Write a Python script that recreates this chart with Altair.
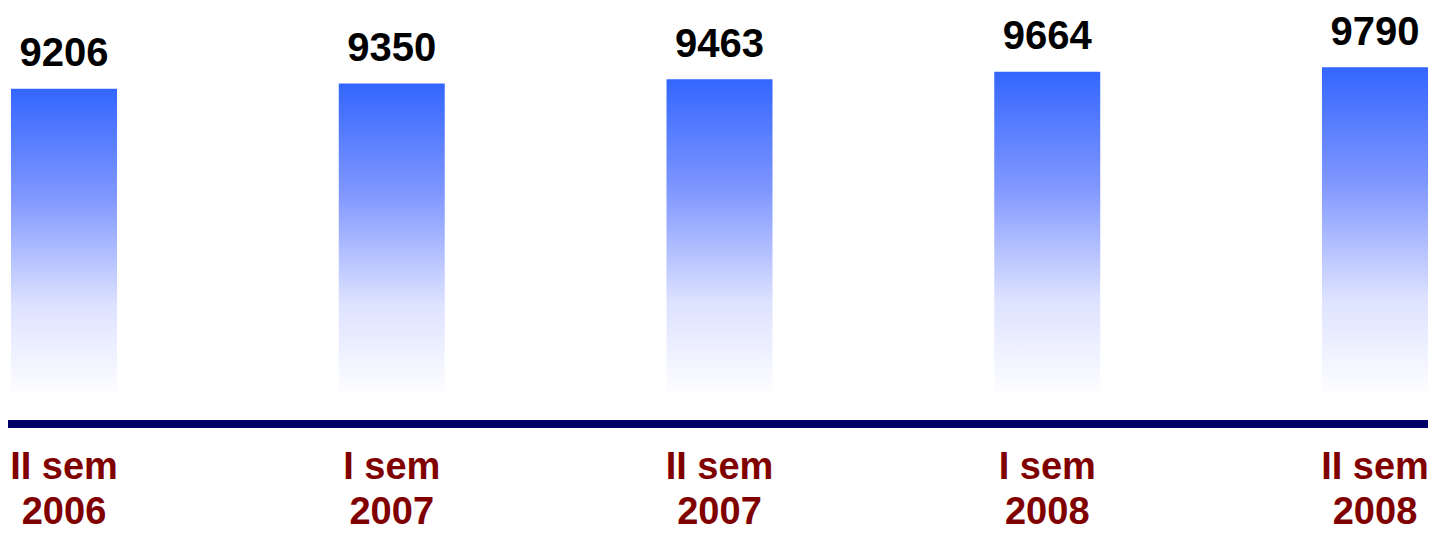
import altair as alt
import pandas as pd

periods_line1 = ["II sem", "I sem", "II sem", "I sem", "II sem"]
periods_line2 = ["2006", "2007", "2007", "2008", "2008"]
categories = ["II sem 2006", "I sem 2007", "II sem 2007", "I sem 2008", "II sem 2008"]
values = [9206, 9350, 9463, 9664, 9790]

df = pd.DataFrame({
    "cat": categories,
    "value": values,
    "l1": periods_line1,
    "l2": periods_line2,
})

FONT = "Liberation Sans"

x = alt.X("cat:N", sort=categories, axis=None,
          scale=alt.Scale(range=[3, 1420], paddingInner=0.6766, paddingOuter=0))
yscale = alt.Scale(domain=[800, 11400], range=[390, 0], zero=False, nice=False)

gradient = {
    "gradient": "linear",
    "x1": 0, "y1": 0, "x2": 0, "y2": 1,
    "stops": [
        {"offset": 0.0, "color": "#3366ff"},
        {"offset": 0.35, "color": "#8097ff"},
        {"offset": 0.7, "color": "#dde2ff"},
        {"offset": 1.0, "color": "#ffffff"},
    ],
}

base = alt.Chart(df)

bars = base.mark_bar(color=gradient).encode(
    x=x,
    y=alt.Y("value:Q", scale=yscale, axis=None),
    y2=alt.datum(800),
)

values_text = base.mark_text(
    font=FONT, fontSize=40, fontWeight="bold", color="#000000",
    baseline="alphabetic", dy=-22.5,
).encode(
    x=x,
    y=alt.Y("value:Q", scale=yscale, axis=None),
    text=alt.Text("value:Q", format="d"),
)

label1 = base.mark_text(
    font=FONT, fontSize=38, fontWeight="bold", color="#800000",
    baseline="alphabetic",
).encode(x=x, y=alt.value(471), text="l1:N")

label2 = base.mark_text(
    font=FONT, fontSize=38, fontWeight="bold", color="#800000",
    baseline="alphabetic",
).encode(x=x, y=alt.value(516), text="l2:N")

axis_line = alt.Chart(pd.DataFrame({"a": [0]})).mark_rule(
    color="#000066", strokeWidth=8
).encode(x=alt.value(0), x2=alt.value(1420), y=alt.value(416))

chart = alt.layer(bars, values_text, axis_line, label1, label2).properties(
    width=1420, height=390,
    autosize=alt.AutoSizeParams(type="none"),
    padding={"left": 0, "top": 0, "right": 0, "bottom": 134},
    background="white",
).configure_view(stroke=None)

chart.save("out.html", embed_options={"renderer": "svg", "actions": False})
